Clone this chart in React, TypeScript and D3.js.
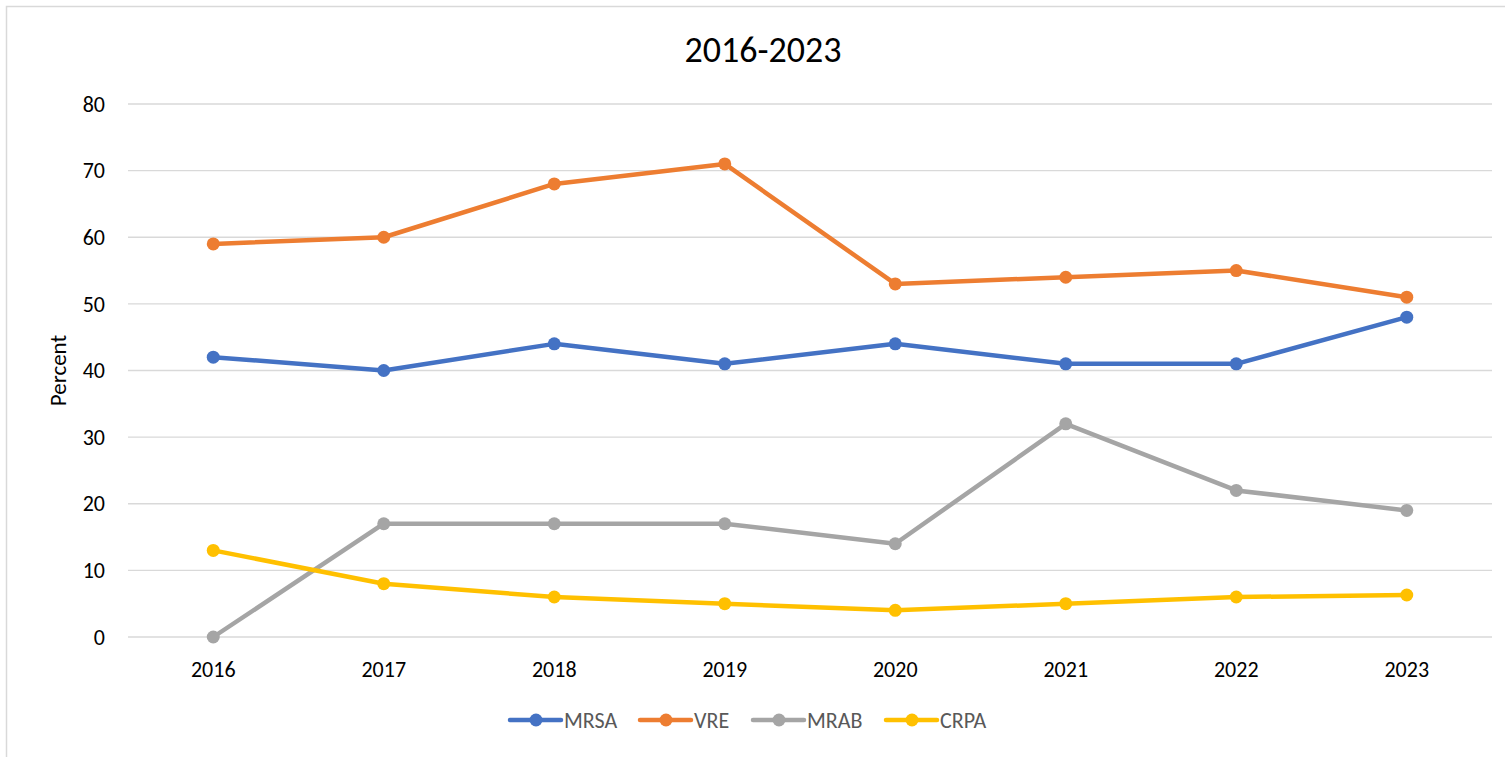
import * as d3 from "d3";
import { useEffect, useRef } from "react";

// Data
const years = ["2016", "2017", "2018", "2019", "2020", "2021", "2022", "2023"];
const mrsa = [42, 40, 44, 41, 44, 41, 41, 48];
const vre = [59, 60, 68, 71, 53, 54, 55, 51];
const mrab = [0, 17, 17, 17, 14, 32, 22, 19];
const crpa = [13, 8, 6, 5, 4, 5, 6, 6.3];
const yTicks = [0, 10, 20, 30, 40, 50, 60, 70, 80];

const seriesList = [
  { name: "MRSA", values: mrsa, color: "#4472C4" },
  { name: "VRE", values: vre, color: "#ED7D31" },
  { name: "MRAB", values: mrab, color: "#A5A5A5" },
  { name: "CRPA", values: crpa, color: "#FFC000" },
];

const WIDTH = 1505;
const HEIGHT = 757;
const FONT = "Carlito, Calibri, 'Liberation Sans', Arial, sans-serif";

const App = () => {
  const svgRef = useRef<SVGSVGElement>(null);

  useEffect(() => {
    const svg = d3.select(svgRef.current);
    svg.selectAll("*").remove();

    const margin = { top: 104, right: 13, bottom: 120, left: 128 };
    const innerW = WIDTH - margin.left - margin.right;
    const innerH = HEIGHT - margin.top - margin.bottom;

    // chart border
    svg
      .append("rect")
      .attr("x", 6.5)
      .attr("y", 6.5)
      .attr("width", WIDTH + 10)
      .attr("height", HEIGHT + 10)
      .attr("fill", "white")
      .attr("stroke", "#d9d9d9")
      .attr("stroke-width", 1.5);

    svg
      .append("text")
      .attr("x", 763)
      .attr("y", 62)
      .attr("text-anchor", "middle")
      .attr("font-family", FONT)
      .attr("font-size", 36)
      .attr("fill", "#000")
      .text("2016-2023");

    const g = svg
      .append("g")
      .attr("transform", "translate(" + margin.left + "," + margin.top + ")");

    const x = d3.scaleBand().domain(years).range([0, innerW]);
    const y = d3.scaleLinear().domain([0, 80]).range([innerH, 0]);
    const cx = (d: string) => (x(d) ?? 0) + x.bandwidth() / 2;

    // grid lines
    g.append("g")
      .selectAll("line")
      .data(yTicks)
      .join("line")
      .attr("x1", 0)
      .attr("x2", innerW)
      .attr("y1", (d) => y(d))
      .attr("y2", (d) => y(d))
      .attr("stroke", "#d9d9d9")
      .attr("stroke-width", 1.3);

    // y tick labels
    g.append("g")
      .selectAll("text")
      .data(yTicks)
      .join("text")
      .attr("x", -23)
      .attr("y", (d) => y(d))
      .attr("dy", "0.35em")
      .attr("text-anchor", "end")
      .attr("font-family", FONT)
      .attr("font-size", 22)
      .attr("fill", "#000")
      .text((d) => d);

    // x tick labels
    g.append("g")
      .selectAll("text")
      .data(years)
      .join("text")
      .attr("x", (d) => cx(d))
      .attr("y", innerH + 40)
      .attr("text-anchor", "middle")
      .attr("font-family", FONT)
      .attr("font-size", 22)
      .attr("fill", "#000")
      .text((d) => d);

    svg
      .append("text")
      .attr("transform", "translate(66," + (margin.top + innerH / 2) + ") rotate(-90)")
      .attr("text-anchor", "middle")
      .attr("font-family", FONT)
      .attr("font-size", 23)
      .attr("fill", "#000")
      .text("Percent");

    const line = d3
      .line<number>()
      .x((_, i) => cx(years[i]))
      .y((d) => y(d));

    seriesList.forEach((s) => {
      g.append("path")
        .datum(s.values)
        .attr("fill", "none")
        .attr("stroke", s.color)
        .attr("stroke-width", 4.5)
        .attr("stroke-linejoin", "round")
        .attr("stroke-linecap", "round")
        .attr("d", line);

      g.append("g")
        .selectAll("circle")
        .data(s.values)
        .join("circle")
        .attr("cx", (_, i) => cx(years[i]))
        .attr("cy", (d) => y(d))
        .attr("r", 6.5)
        .attr("fill", s.color);
    });

    // legend
    const legendX = [510, 640, 753, 886];
    const legendY = 720;
    const legend = svg.append("g");
    seriesList.forEach((s, i) => {
      const lx = legendX[i];
      legend
        .append("line")
        .attr("x1", lx)
        .attr("x2", lx + 51)
        .attr("y1", legendY)
        .attr("y2", legendY)
        .attr("stroke", s.color)
        .attr("stroke-width", 4.5)
        .attr("stroke-linecap", "round");
      legend
        .append("circle")
        .attr("cx", lx + 26)
        .attr("cy", legendY)
        .attr("r", 6.5)
        .attr("fill", s.color);
      legend
        .append("text")
        .attr("x", lx + 54)
        .attr("y", legendY)
        .attr("dy", "0.35em")
        .attr("font-family", FONT)
        .attr("font-size", 22)
        .attr("fill", "#595959")
        .text(s.name);
    });
  }, []);

  return (
    <svg
      ref={svgRef}
      width={WIDTH}
      height={HEIGHT}
      style={{ position: "absolute", left: 0, top: 0, display: "block" }}
    ></svg>
  );
};

export default App;
